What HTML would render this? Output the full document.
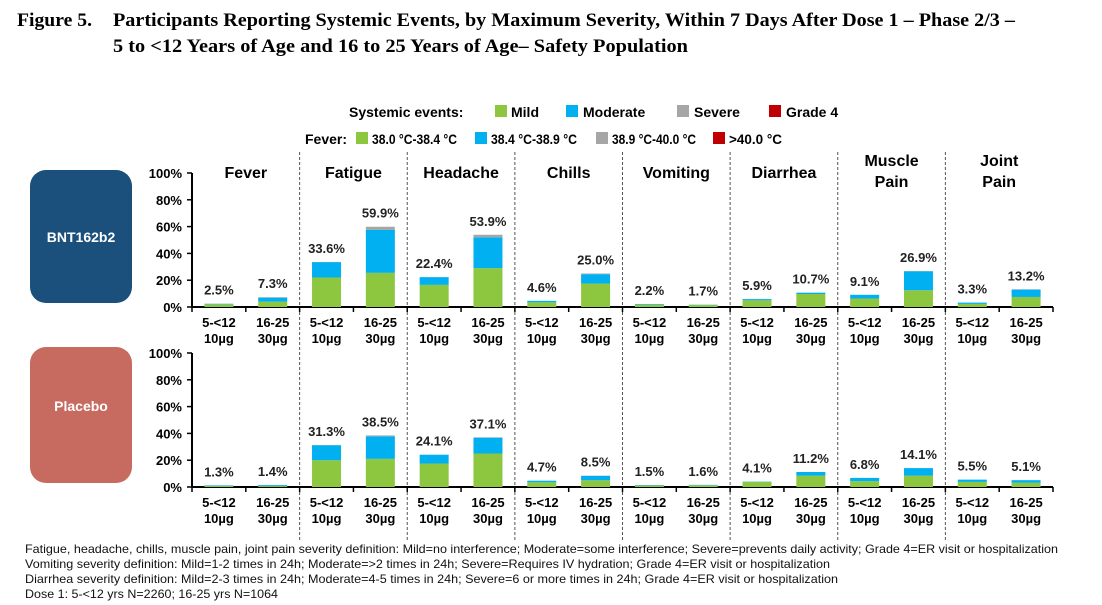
<!DOCTYPE html>
<html><head><meta charset="utf-8"><style>
body{margin:0;background:#fff;width:1102px;height:605px;overflow:hidden;font-family:"Liberation Sans",sans-serif}
svg{display:block}
</style></head><body>
<svg id="c" width="1102" height="605" xmlns="http://www.w3.org/2000/svg">
<g font-family="Liberation Serif" font-weight="bold" font-size="19" fill="#000">
<text x="17" y="26" textLength="75" lengthAdjust="spacingAndGlyphs">Figure 5.</text>
<text x="113" y="26" textLength="902" lengthAdjust="spacingAndGlyphs">Participants Reporting Systemic Events, by Maximum Severity, Within 7 Days After Dose 1 – Phase 2/3 –</text>
<text x="113" y="52" textLength="575" lengthAdjust="spacingAndGlyphs">5 to &lt;12 Years of Age and 16 to 25 Years of Age– Safety Population</text>
</g>
<g font-weight="bold" font-size="14" fill="#000">
<text x="349" y="117">Systemic events:</text>
<rect x="495" y="105" width="12" height="12" fill="#8dc63f"/><text x="511" y="117">Mild</text>
<rect x="566" y="105" width="12" height="12" fill="#00b0f0"/><text x="583" y="117">Moderate</text>
<rect x="677" y="105" width="12" height="12" fill="#a6a6a6"/><text x="694" y="117">Severe</text>
<rect x="769" y="105" width="12" height="12" fill="#c00000"/><text x="786" y="117">Grade 4</text>
<text x="305" y="144">Fever:</text>
<rect x="356" y="132" width="12" height="12" fill="#8dc63f"/><text x="372" y="144" textLength="85" lengthAdjust="spacingAndGlyphs">38.0 °C-38.4 °C</text>
<rect x="475" y="132" width="12" height="12" fill="#00b0f0"/><text x="491" y="144" textLength="86" lengthAdjust="spacingAndGlyphs">38.4 °C-38.9 °C</text>
<rect x="596" y="132" width="12" height="12" fill="#a6a6a6"/><text x="612" y="144" textLength="84" lengthAdjust="spacingAndGlyphs">38.9 °C-40.0 °C</text>
<rect x="713" y="132" width="12" height="12" fill="#c00000"/><text x="729" y="144" textLength="53" lengthAdjust="spacingAndGlyphs">&gt;40.0 °C</text>
</g>
<rect x="30" y="170" width="102" height="133" rx="16" fill="#1b4f7c"/>
<text x="81" y="242" text-anchor="middle" fill="#fff" font-weight="bold" font-size="14">BNT162b2</text>
<rect x="30" y="347" width="102" height="136" rx="16" fill="#c76a60"/>
<text x="81" y="411" text-anchor="middle" fill="#fff" font-weight="bold" font-size="14">Placebo</text>
<g id="plots"></g>
<g font-size="12" fill="#111">
<text x="25" y="553" textLength="1033" lengthAdjust="spacingAndGlyphs">Fatigue, headache, chills, muscle pain, joint pain severity definition: Mild=no interference; Moderate=some interference; Severe=prevents daily activity; Grade 4=ER visit or hospitalization</text>
<text x="25" y="568" textLength="805" lengthAdjust="spacingAndGlyphs">Vomiting severity definition: Mild=1-2 times in 24h; Moderate=&gt;2 times in 24h; Severe=Requires IV hydration; Grade 4=ER visit or hospitalization</text>
<text x="25" y="583" textLength="813" lengthAdjust="spacingAndGlyphs">Diarrhea severity definition: Mild=2-3 times in 24h; Moderate=4-5 times in 24h; Severe=6 or more times in 24h; Grade 4=ER visit or hospitalization</text>
<text x="25" y="598" textLength="253" lengthAdjust="spacingAndGlyphs">Dose 1: 5-&lt;12 yrs N=2260; 16-25 yrs N=1064</text>
</g>
</svg>
<script>
const categories=[["Fever"],["Fatigue"],["Headache"],["Chills"],["Vomiting"],["Diarrhea"],["Muscle","Pain"],["Joint","Pain"]];
const groups=[["5-<12","10µg"],["16-25","30µg"]];
const yTicks=[0,20,40,60,80,100];
// BNT162b2: per category, [5-<12, 16-25]
const bntMild=[[2.0,4.0],[22,25.5],[16.5,29],[3.5,17.5],[1.8,1.5],[5.0,9.7],[6.3,12.5],[2.3,7.5]];
const bntModerate=[[0.4,3.0],[11.5,32],[5.8,23],[1.1,7.0],[0.4,0.2],[0.9,1.0],[2.8,14.1],[1.0,5.5]];
const bntSevere=[[0.1,0.3],[0.1,2.4],[0.1,1.9],[0,0.5],[0,0],[0,0],[0,0.3],[0,0.2]];
const bntTotals=[["2.5%","7.3%"],["33.6%","59.9%"],["22.4%","53.9%"],["4.6%","25.0%"],["2.2%","1.7%"],["5.9%","10.7%"],["9.1%","26.9%"],["3.3%","13.2%"]];
const plaMild=[[0.9,0.7],[20,21],[17.5,25],[3.5,5],[1.2,1.3],[3.9,8.5],[4.3,8.5],[3.8,3.2]];
const plaModerate=[[0.4,0.7],[11.2,16.8],[6.6,11.8],[1.2,3.3],[0.3,0.3],[0.2,2.7],[2.5,5.6],[1.7,1.9]];
const plaSevere=[[0,0],[0.1,0.7],[0,0.3],[0,0.2],[0,0],[0,0],[0,0],[0,0]];
const plaTotals=[["1.3%","1.4%"],["31.3%","38.5%"],["24.1%","37.1%"],["4.7%","8.5%"],["1.5%","1.6%"],["4.1%","11.2%"],["6.8%","14.1%"],["5.5%","5.1%"]];

const NS="http://www.w3.org/2000/svg";
const root=document.getElementById('plots');
const X0=192,X1=1053,CW=(X1-X0)/categories.length,BW=29;
function mk(tag,attrs,parent){const e=document.createElementNS(NS,tag);for(const k in attrs)e.setAttribute(k,attrs[k]);parent.appendChild(e);return e;}
function xBar(ci,gi){return X0+ci*CW+CW*(gi===0?0.25:0.75);}
for(let i=1;i<categories.length;i++){
  const l=mk('line',{x1:X0+i*CW,x2:X0+i*CW,y1:152,y2:540,stroke:'#555','stroke-width':1,'stroke-dasharray':'3,2'},root);
  
  
}
categories.forEach((c,ci)=>{
  const t=mk('text',{x:X0+ci*CW+CW/2,'text-anchor':'middle','font-weight':'bold','font-size':16},root);
  
  
  c.forEach((w,i)=>{const s=mk('tspan',{x:X0+ci*CW+CW/2,y:(c.length===1?178:166)+i*21},t);s.textContent=w;});
});
function panel(y0,name,mild,mod,sev,tot){
  const g=mk('g',{},root);
  
  
  const y=v=>y0-v*1.34;
  mk('line',{x1:X0,x2:X0,y1:y(100),y2:y0,stroke:'#000','stroke-width':2},g);
  mk('line',{x1:X0,x2:X1,y1:y0,y2:y0,stroke:'#000','stroke-width':2},g);
  yTicks.forEach(v=>{
    mk('line',{x1:X0-5,x2:X0,y1:y(v),y2:y(v),stroke:'#000','stroke-width':1.5},g);
    const t=mk('text',{x:X0-10,y:y(v)+5,'text-anchor':'end','font-weight':'bold','font-size':13},g);
    
    
    t.textContent=v+'%';
  });
  for(let i=0;i<=categories.length*2;i++){mk('line',{x1:X0+i*CW/2,x2:X0+i*CW/2,y1:y0,y2:y0+5,stroke:'#000','stroke-width':1.5},g);}
  categories.forEach((c,ci)=>{
    groups.forEach((gr,gi)=>{
      const cx=xBar(ci,gi);
      let acc=0;
      [[mild,'#8dc63f','mild'],[mod,'#00b0f0','moderate'],[sev,'#a6a6a6','severe']].forEach(([arr,col,nm])=>{
        const v=arr[ci][gi];if(v<=0)return;
        const r=mk('rect',{x:cx-BW/2,y:y(acc+v),width:BW,height:v*1.34,fill:col},g);
        
        
        acc+=v;
      });
      const lb=mk('text',{x:cx,y:y(acc)-9,'text-anchor':'middle','font-weight':'bold','font-size':13,fill:'#222'},g);
      
      
      lb.textContent=tot[ci][gi];
      const tl=mk('text',{x:cx,'text-anchor':'middle','font-weight':'bold','font-size':13},g);
      
      
      gr.forEach((w,i)=>{const s=mk('tspan',{x:cx,y:y0+20+i*16},tl);s.textContent=w;});
    });
  });
}
panel(307,'bnt162b2-chart',bntMild,bntModerate,bntSevere,bntTotals);
panel(487,'placebo-chart',plaMild,plaModerate,plaSevere,plaTotals);
</script>
</body></html>
